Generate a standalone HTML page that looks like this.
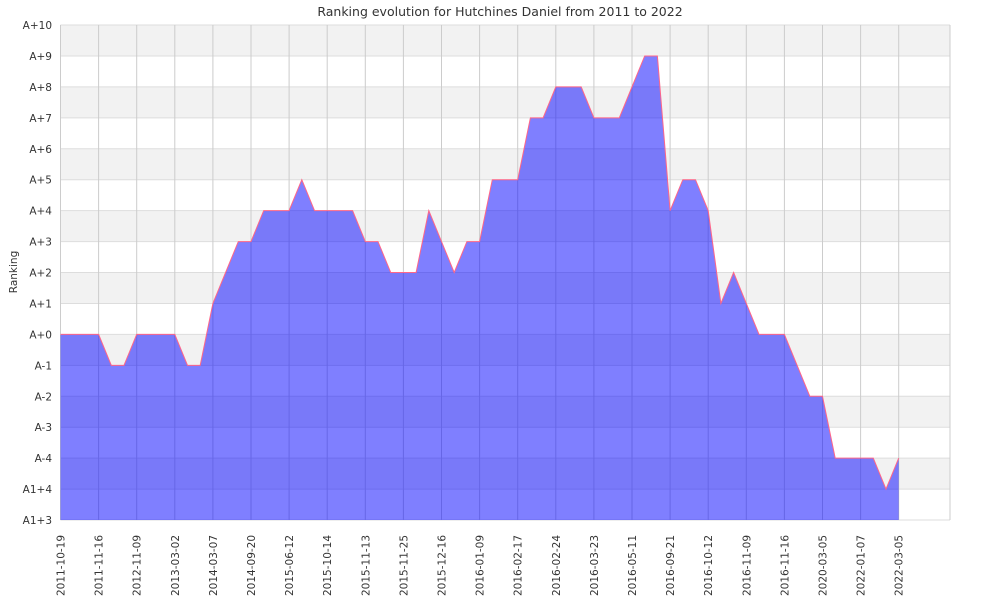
<!DOCTYPE html>
<html><head><meta charset="utf-8"><style>
body{margin:0;background:#fff}
svg{display:block;font-family:"DejaVu Sans","Liberation Sans",sans-serif}
</style></head><body>
<svg id="s" width="1000" height="600" xmlns="http://www.w3.org/2000/svg"></svg>
<script>
const s=document.getElementById('s');
const L=60.5,R=950,T=25,B=520,rh=(B-T)/16,xs=38.1;
let h='';
for(let r=0;r<16;r++){if(r%2==0)h+=`<rect x="${L}" y="${T+r*rh}" width="${R-L}" height="${rh}" fill="#f2f2f2"/>`;}
for(let r=0;r<=16;r++){h+=`<line x1="${L}" x2="${R}" y1="${T+r*rh}" y2="${T+r*rh}" stroke="#ddd"/>`;}
const xl=["2011-10-19","2011-11-16","2012-11-09","2013-03-02","2014-03-07","2014-09-20","2015-06-12","2015-10-14","2015-11-13","2015-11-25","2015-12-16","2016-01-09","2016-02-17","2016-02-24","2016-03-23","2016-05-11","2016-09-21","2016-10-12","2016-11-09","2016-11-16","2020-03-05","2022-01-07","2022-03-05"];
xl.forEach((t,i)=>{const x=L+i*xs;h+=`<line x1="${x}" x2="${x}" y1="${T}" y2="${B}" stroke="#ccc"/>`;
h+=`<text transform="translate(${x+4},${B+76}) rotate(-90)" font-size="10.5" fill="#333">${t}</text>`;});
h+=`<line x1="${R}" x2="${R}" y1="${T}" y2="${B}" stroke="#ccc"/>`;
const yl=["A+10","A+9","A+8","A+7","A+6","A+5","A+4","A+3","A+2","A+1","A+0","A-1","A-2","A-3","A-4","A1+4","A1+3"];
yl.forEach((t,i)=>{h+=`<text x="52" y="${T+i*rh+4}" font-size="10.5" fill="#333" text-anchor="end">${t}</text>`;});
const v=[10,10,10,10,11,11,10,10,10,10,11,11,9,8,7,7,6,6,6,5,6,6,6,6,7,7,8,8,8,6,7,8,7,7,5,5,5,3,3,2,2,2,3,3,3,2,1,1,6,5,5,6,9,8,9,10,10,10,11,12,12,14,14,14,14,15,14];
let p='';v.forEach((y,i)=>{p+=`${L+i*xs/3},${T+y*rh} `;});
const lx=L+(v.length-1)*xs/3;
h+=`<polygon points="${L},${B} ${p}${lx},${B}" fill="rgba(0,0,255,0.5)"/>`;
h+=`<polyline points="${p}" fill="none" stroke="#ff6688" stroke-width="1"/>`;
h+=`<text x="500" y="16" font-size="12.5" fill="#333" text-anchor="middle">Ranking evolution for Hutchines Daniel from 2011 to 2022</text>`;
h+=`<text transform="translate(17,272) rotate(-90)" font-size="10.5" fill="#333" text-anchor="middle">Ranking</text>`;
s.innerHTML=h;
</script>
</body></html>
